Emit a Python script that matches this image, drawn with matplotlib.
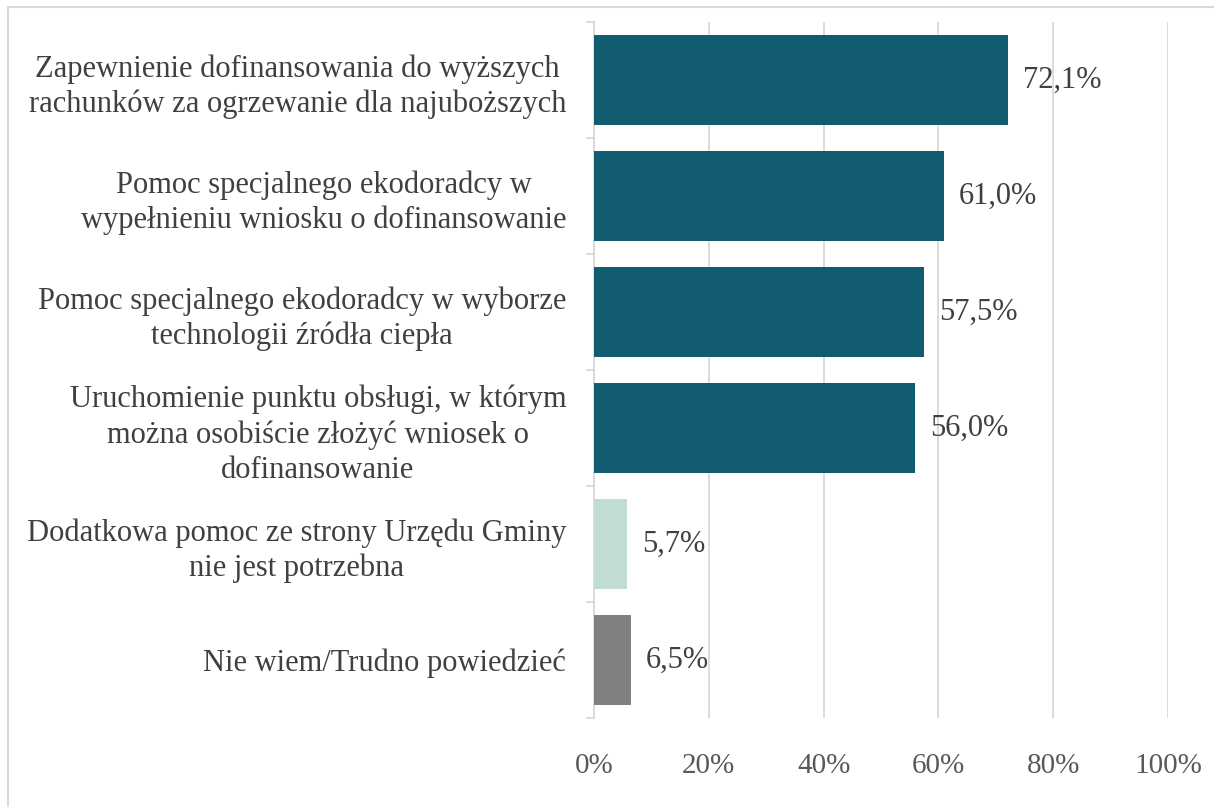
import matplotlib.pyplot as plt
from matplotlib.patches import Rectangle

labels = [
    "Zapewnienie dofinansowania do wyższych\nrachunków za ogrzewanie dla najuboższych",
    "Pomoc specjalnego ekodoradcy w\nwypełnieniu wniosku o dofinansowanie",
    "Pomoc specjalnego ekodoradcy w wyborze\ntechnologii źródła ciepła",
    "Uruchomienie punktu obsługi, w którym\nmożna osobiście złożyć wniosek o\ndofinansowanie",
    "Dodatkowa pomoc ze strony Urzędu Gminy\nnie jest potrzebna",
    "Nie wiem/Trudno powiedzieć",
]
values = [72.1, 61.0, 57.5, 56.0, 5.7, 6.5]
colors = ["#125C72", "#125C72", "#125C72", "#125C72", "#C0DCD5", "#808080"]

plt.rcParams['font.family'] = ['Liberation Serif', 'DejaVu Serif']

fig = plt.figure(figsize=(12.14, 8.07), dpi=100)
ax = fig.add_axes([594/1214, 1 - 718/807, (1168 - 594)/1214, (718 - 22)/807])

# chart frame
fig.patches.append(Rectangle((8/1214, -0.02), 1.2, 1 - 7/807 + 0.02, transform=fig.transFigure,
                             fill=False, edgecolor="#D9D9D9", linewidth=1.5))

pos = list(range(len(values)))
ax.barh(pos, values, height=0.78, color=colors, zorder=3)
ax.set_ylim(len(values) - 0.5, -0.5)
ax.set_xlim(0, 100)

for p, v in zip(pos, values):
    ax.text(v + 2.6, p, f"{v:.1f}%".replace(".", ","), va="center", ha="left",
            fontsize=22, color="#404040", zorder=4)

ax.set_xticks([0, 20, 40, 60, 80, 100])
ax.set_xticklabels([f"{t}%" for t in [0, 20, 40, 60, 80, 100]], fontsize=21, color="#595959")
ax.tick_params(axis="x", length=0, pad=25)
ax.grid(axis="x", color="#D9D9D9", linewidth=1.3, zorder=0)

ax.set_yticks(pos)
ax.set_yticklabels(labels, fontsize=22, color="#404040", multialignment="center", linespacing=1.28)
ax.tick_params(axis="y", length=0, pad=20)
ax.set_yticks([p + 0.5 for p in [-1] + pos], minor=True)
ax.tick_params(axis="y", which="minor", length=6, color="#D9D9D9", width=1.3)

for s in ["top", "right", "bottom"]:
    ax.spines[s].set_visible(False)
ax.spines["left"].set_color("#D9D9D9")
ax.spines["left"].set_linewidth(1.3)

fig.savefig("out.png", dpi=100)
